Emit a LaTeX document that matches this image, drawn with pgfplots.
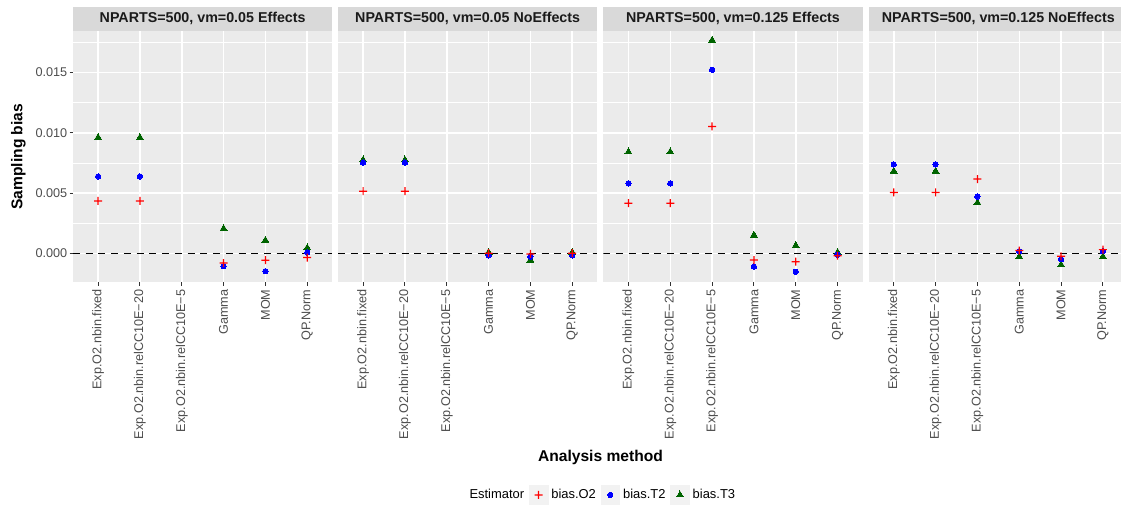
\documentclass[border=0pt]{standalone}
\usepackage{fontspec}
\setmainfont{Liberation Sans}
\usepackage{pgfplots}
\usepackage{pgfplotstable}
\pgfplotsset{compat=1.18}

\definecolor{panelbg}{HTML}{EBEBEB}
\definecolor{stripbg}{HTML}{D9D9D9}
\definecolor{striptext}{HTML}{1A1A1A}
\definecolor{ticktext}{HTML}{4D4D4D}
\definecolor{tickcol}{HTML}{333333}
\definecolor{keybg}{HTML}{F2F2F2}
\definecolor{ggred}{HTML}{FF0000}
\definecolor{ggblue}{HTML}{0000FF}
\definecolor{gggreen}{HTML}{006400}

% a filled plus sign, so that it renders as solid colour at any size
\pgfdeclareplotmark{ggplus}{%
  \pgfpathrectangle{\pgfqpoint{-\pgfplotmarksize}{-0.45pt}}{\pgfqpoint{2\pgfplotmarksize}{0.9pt}}%
  \pgfpathrectangle{\pgfqpoint{-0.45pt}{-\pgfplotmarksize}}{\pgfqpoint{0.9pt}{2\pgfplotmarksize}}%
  \pgfusepathqfill}

% bias estimates per analysis method (x = method index)
\pgfplotstableread{
x  o2       t2       t3
0  0.00436  0.00639  0.00961
1  0.00436  0.00639  0.00961
3 -0.00078 -0.00105  0.00207
4 -0.00055 -0.00146  0.00110
5 -0.00033  0.00009  0.00047
}\effA
\pgfplotstableread{
x  o2       t2       t3
0  0.00517  0.00753  0.00775
1  0.00517  0.00753  0.00775
3  0.00003 -0.00015  0.00010
4 -0.00003 -0.00025 -0.00053
5  0.00003 -0.00015  0.00010
}\noeffA
\pgfplotstableread{
x  o2       t2       t3
0  0.00417  0.00581  0.00842
1  0.00417  0.00581  0.00842
2  0.01053  0.01522  0.01767
3 -0.00053 -0.00108  0.00153
4 -0.00067 -0.00150  0.00067
5 -0.00017 -0.00010  0.00010
}\effB
\pgfplotstableread{
x  o2       t2       t3
0  0.00506  0.00739  0.00683
1  0.00506  0.00739  0.00683
2  0.00617  0.00472  0.00422
3  0.00025  0.00020 -0.00025
4 -0.00022 -0.00047 -0.00092
5  0.00033  0.00020 -0.00025
}\noeffB

\pgfplotsset{
  facet/.style={
    scale only axis, width=194.5pt, height=188.5pt,
    anchor=north west,
    xmin=-0.6, xmax=5.6, ymin=-0.00238, ymax=0.01843,
    xtick={0,...,5},
    xticklabels={Exp.O2.nbin.fixed, Exp.O2.nbin.relCC10E−20, Exp.O2.nbin.relCC10E−5, Gamma, MOM, QP.Norm},
    ytick={0,0.005,0.01,0.015},
    minor ytick={0.0025,0.0075,0.0125,0.0175},
    scaled y ticks=false,
    xmajorgrids, ymajorgrids, yminorgrids,
    major grid style={white, line width=1.13pt},
    minor grid style={white, line width=0.56pt},
    axis background/.style={fill=panelbg},
    axis line style={draw=none},
    tick align=outside, tick pos=left,
    major tick length=2.6pt, minor tick length=0pt,
    minor tick style={draw=none},
    xtick style={tickcol, line width=0.8pt},
    ytick style={tickcol, line width=0.8pt},
    tick label style={font=\fontsize{9.5}{11}\selectfont, text=ticktext},
    xticklabel style={rotate=90, anchor=east, inner sep=2.6pt},
    yticklabel style={inner sep=1.5pt},
    title style={at={(0.5,1)}, anchor=south, yshift=-6pt, fill=stripbg,
      text=striptext, font=\bfseries\fontsize{10.7}{12}\selectfont,
      minimum width=194.5pt, minimum height=18pt, inner sep=0pt},
  },
  inner/.style={yticklabels={}, ytick style={draw=none}},
  zeroline/.style={black, line width=1.05pt, dash pattern=on 5.25pt off 4.3pt, forget plot},
  sT3/.style={only marks, mark=triangle*, mark size=3pt, color=gggreen,
    mark options={solid, draw=gggreen, fill=gggreen, line width=0pt}},
  sT2/.style={only marks, mark=*, mark size=2pt, color=ggblue,
    mark options={solid, draw=ggblue, fill=ggblue, line width=0pt}},
  sO2/.style={only marks, mark=ggplus, mark size=3pt, color=ggred,
    mark options={solid, fill=ggred}},
  ggkey/.style={legend image code/.code={
      \fill[keybg] (0pt,-7pt) rectangle (14pt,7pt);
      \draw[mark repeat=2, mark phase=2, ##1] plot coordinates {(0pt,0pt) (7pt,0pt) (14pt,0pt)};}},
}

\begin{document}
\begin{tikzpicture}
\useasboundingbox (0,0) rectangle (840.75pt,-384pt);

\begin{axis}[facet, at={(54.75pt,-23.25pt)},
  title={NPARTS=500, vm=0.05 Effects},
  yticklabels={0.000,0.005,0.010,0.015},
  xlabel={Analysis method},
  xlabel style={at={(axis description cs:2.034,-0.695)}, anchor=center,
    font=\bfseries\fontsize{11.7}{13}\selectfont},
  ylabel={Sampling bias},
  ylabel style={at={(axis description cs:-0.211,0.5)}, anchor=center,
    font=\bfseries\fontsize{11.7}{13}\selectfont},
  legend style={at={(axis description cs:2.035,-0.846)}, anchor=center,
    draw=none, fill=none, legend columns=-1,
    font=\fontsize{9.7}{11}\selectfont,
    nodes={inner sep=0pt, anchor=west},
    /tikz/every odd column/.append style={column sep=2.4pt},
    /tikz/every even column/.append style={column sep=3.6pt}},
]
\addlegendimage{empty legend}\addlegendentry{Estimator}
\addlegendimage{sO2, ggkey}\addlegendentry{bias.O2}
\addlegendimage{sT2, ggkey}\addlegendentry{bias.T2}
\addlegendimage{sT3, ggkey}\addlegendentry{bias.T3}
\addplot[zeroline] coordinates {(-0.6,0) (5.6,0)};
\addplot[sT3, forget plot] table[x=x, y=t3] {\effA};
\addplot[sT2, forget plot] table[x=x, y=t2] {\effA};
\addplot[sO2, forget plot] table[x=x, y=o2] {\effA};
\end{axis}

\begin{axis}[facet, inner, at={(253.5pt,-23.25pt)},
  title={NPARTS=500, vm=0.05 NoEffects}]
\addplot[zeroline] coordinates {(-0.6,0) (5.6,0)};
\addplot[sT3] table[x=x, y=t3] {\noeffA};
\addplot[sT2] table[x=x, y=t2] {\noeffA};
\addplot[sO2] table[x=x, y=o2] {\noeffA};
\end{axis}

\begin{axis}[facet, inner, at={(452.5pt,-23.25pt)},
  title={NPARTS=500, vm=0.125 Effects}]
\addplot[zeroline] coordinates {(-0.6,0) (5.6,0)};
\addplot[sT3] table[x=x, y=t3] {\effB};
\addplot[sT2] table[x=x, y=t2] {\effB};
\addplot[sO2] table[x=x, y=o2] {\effB};
\end{axis}

\begin{axis}[facet, inner, at={(651.5pt,-23.25pt)},
  title={NPARTS=500, vm=0.125 NoEffects}]
\addplot[zeroline] coordinates {(-0.6,0) (5.6,0)};
\addplot[sT3] table[x=x, y=t3] {\noeffB};
\addplot[sT2] table[x=x, y=t2] {\noeffB};
\addplot[sO2] table[x=x, y=o2] {\noeffB};
\end{axis}
\end{tikzpicture}
\end{document}
